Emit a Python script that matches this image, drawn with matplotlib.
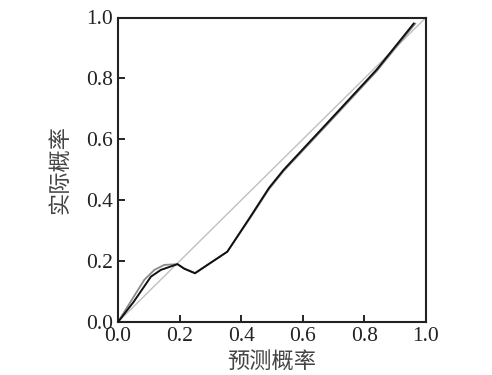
import matplotlib
matplotlib.use("Agg")
import matplotlib.pyplot as plt

# Data
diag_x = [0.0, 1.0]
diag_y = [0.0, 1.0]

black_x = [0.0, 0.05, 0.107, 0.139, 0.193, 0.215, 0.25, 0.355, 0.43, 0.49, 0.538, 0.689, 0.84, 0.96]
black_y = [0.0, 0.065, 0.149, 0.171, 0.19, 0.175, 0.16, 0.231, 0.346, 0.44, 0.50, 0.664, 0.829, 0.98]

gray_x = [0.0, 0.04, 0.085, 0.118, 0.15, 0.193, 0.215, 0.25, 0.355, 0.43, 0.49, 0.538, 0.689, 0.84, 0.965]
gray_y = [0.0, 0.065, 0.138, 0.171, 0.1875, 0.19, 0.176, 0.161, 0.231, 0.343, 0.436, 0.496, 0.659, 0.824, 0.98]

ticks = [0.0, 0.2, 0.4, 0.6, 0.8, 1.0]
tick_labels = ["0.0", "0.2", "0.4", "0.6", "0.8", "1.0"]
xlabel = "预测概率"
ylabel = "实际概率"

fig = plt.figure(figsize=(4.92, 3.75), dpi=100)
ax = fig.add_axes([118/492, 1 - 322/375, 308/492, 304.5/375])

ax.plot(diag_x, diag_y, color="#c0c0c0", lw=1.0, zorder=1)
ax.plot(gray_x, gray_y, color="#8a8a8a", lw=1.3, zorder=2)
ax.plot(black_x, black_y, color="#111111", lw=1.4, zorder=3)

ax.set_xlim(0, 1)
ax.set_ylim(0, 1)
ax.set_xticks(ticks)
ax.set_yticks(ticks)
ax.set_xticklabels(tick_labels, family="Liberation Serif", fontsize=15.5, color="#222222")
ax.set_yticklabels(tick_labels, family="Liberation Serif", fontsize=15.5, color="#222222")
ax.tick_params(direction="in", length=5, width=1.2, top=False, right=False, pad=3.5)
for s in ax.spines.values():
    s.set_linewidth(1.5)
    s.set_color("#222222")

ax.set_xlabel(xlabel, family=["Noto Sans CJK SC", "DejaVu Sans"], fontsize=16, labelpad=3, color="#444444")
ax.set_ylabel(ylabel, family=["Noto Sans CJK SC", "DejaVu Sans"], fontsize=16, labelpad=11, color="#444444")

fig.savefig("out.png", dpi=100)
